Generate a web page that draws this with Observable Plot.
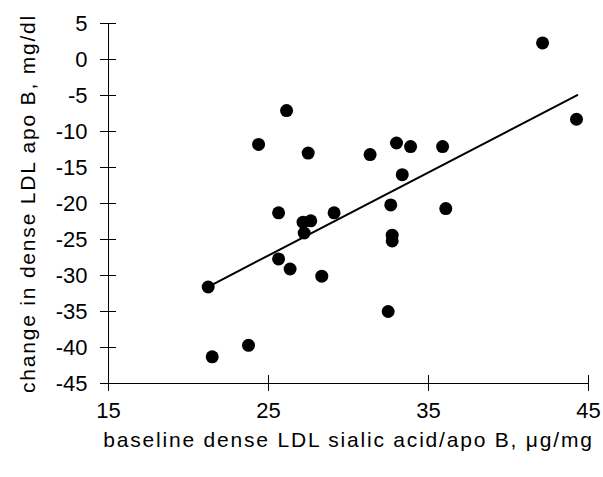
<!DOCTYPE html>
<html><head><meta charset="utf-8">
<script src="https://cdn.jsdelivr.net/npm/d3@7"></script>
<script src="https://cdn.jsdelivr.net/npm/@observablehq/plot@0.6"></script>
<style>body{margin:0;background:#fff}</style>
</head><body><div id="chart"></div>
<script>
const baseline = [21.23, 21.48, 23.75, 24.38, 26.13, 25.63, 25.63, 26.35, 27.16, 27.64, 27.23, 27.48, 28.33, 29.1, 31.35, 32.48, 32.64, 32.73, 32.73, 33.0, 33.36, 33.88, 35.88, 36.08, 42.13, 44.25];
const change = [-31.6, -41.3, -39.7, -11.8, -7.1, -21.3, -27.7, -29.1, -22.6, -22.4, -24.1, -13.0, -30.1, -21.3, -13.2, -35.0, -20.2, -24.4, -25.2, -11.6, -16.0, -12.1, -12.1, -20.7, 2.3, -8.3];
const fitX = [21.2, 44.3];
const fitY = [-31.6, -4.95];
const xTicks = [15, 25, 35, 45];
const yTicks = [5, 0, -5, -10, -15, -20, -25, -30, -35, -40, -45];
const xLabel = "baseline dense LDL sialic acid/apo B, \u03bcg/mg";
const yLabel = "change in dense LDL apo B, mg/dl";

const points = baseline.map((x, i) => ({x, y: change[i]}));
const fit = fitX.map((x, i) => ({x, y: fitY[i]}));
const font = "'Liberation Sans', Arial, sans-serif";

const chart = Plot.plot({
  width: 603,
  height: 477,
  marginLeft: 108,
  marginRight: 15,
  marginTop: 23,
  marginBottom: 94,
  style: {fontFamily: font, fontSize: "22px", background: "#fff", color: "#000"},
  x: {domain: [15, 45]},
  y: {domain: [-45, 5]},
  marks: [
    Plot.ruleX([15], {y1: -45, y2: 5, stroke: "#000", strokeWidth: 1}),
    Plot.ruleY([-45], {x1: 15, x2: 45, stroke: "#000", strokeWidth: 1}),
    Plot.ruleX(xTicks, {x: d => d, y1: -45, y2: -45, insetTop: -8, insetBottom: -8, stroke: "#000"}),
    Plot.ruleY(yTicks, {y: d => d, x1: 15, x2: 15, insetLeft: -8, insetRight: -8, stroke: "#000"}),
    Plot.axisX(xTicks, {tickSize: 0, tickPadding: 19, tickFormat: d => String(d), label: null, fontSize: 22}),
    Plot.axisY(yTicks, {tickSize: 0, tickPadding: 21, tickFormat: d => String(d), label: null, fontSize: 22}),
    Plot.line(fit, {x: "x", y: "y", stroke: "#000", strokeWidth: 2}),
    Plot.dot(points, {x: "x", y: "y", r: 6.5, fill: "#000", stroke: null}),
    Plot.text([xLabel], {frameAnchor: "bottom", dy: 57, lineAnchor: "middle", textAnchor: "middle", text: d => d, fontSize: 21, style: "letter-spacing:1.8px"}),
    Plot.text([yLabel], {frameAnchor: "left", dx: -80, rotate: -90, lineAnchor: "middle", textAnchor: "middle", text: d => d, fontSize: 21})
  ]
});
chart.querySelectorAll("g[aria-label='text'] text").forEach(t => t.style.letterSpacing = "1.8px");
document.getElementById("chart").append(chart);
</script>
</body></html>
